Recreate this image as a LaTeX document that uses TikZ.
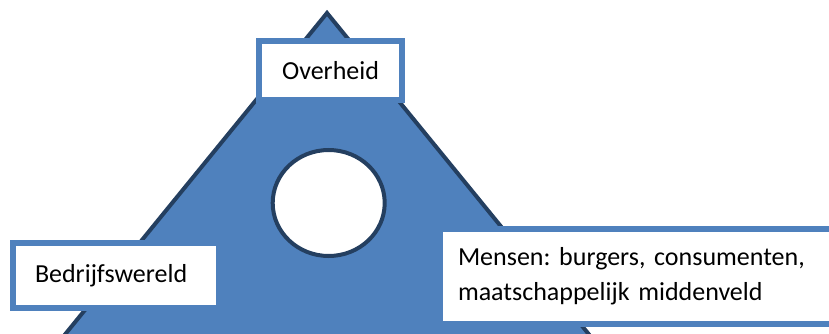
\documentclass[tikz,border=0pt]{standalone}
\usepackage{fontspec}
\setmainfont{Carlito}
\frenchspacing
\usetikzlibrary{shapes.geometric}
\definecolor{fillblue}{HTML}{4F81BD}
\definecolor{darkblue}{HTML}{243F60}
\tikzset{
  labelbox/.style={draw=fillblue, line width=5.5pt, fill=white, rectangle,
    font=\fontsize{26}{35}\selectfont\frenchspacing, align=left, inner ysep=0pt},
}
\begin{document}
\begin{tikzpicture}[x=1pt,y=-1pt]
\useasboundingbox (0,0) rectangle (829,334);
\clip (0,0) rectangle (829,334);
% triangle
\coordinate (apex) at (327,13);
\coordinate (bl) at (327-0.815*400,413);
\coordinate (br) at (327+0.815*400,413);
\draw[fill=fillblue, draw=darkblue, line width=4pt, line join=miter] (apex) -- (br) -- (bl) -- cycle;
% circle
\node[ellipse, draw=darkblue, fill=white, line width=4pt, minimum width=112pt, minimum height=106pt, inner sep=0pt] (hole) at (328.7,203) {};
% boxes
\node[labelbox, minimum width=143pt, minimum height=59pt, align=center, inner xsep=0pt] (overheid) at (330.5,70.5) {Overheid};
\node[labelbox, text width=162pt, inner xsep=22pt, minimum height=65pt] (bedrijf) at (116,275.5) {Bedrijfswereld};
\node[labelbox, text width=364pt, inner xsep=18pt, minimum height=95pt] (mensen) at (640,276.5) {Mensen: burgers, consumenten,\\maatschappelijk middenveld};
\end{tikzpicture}
\end{document}
